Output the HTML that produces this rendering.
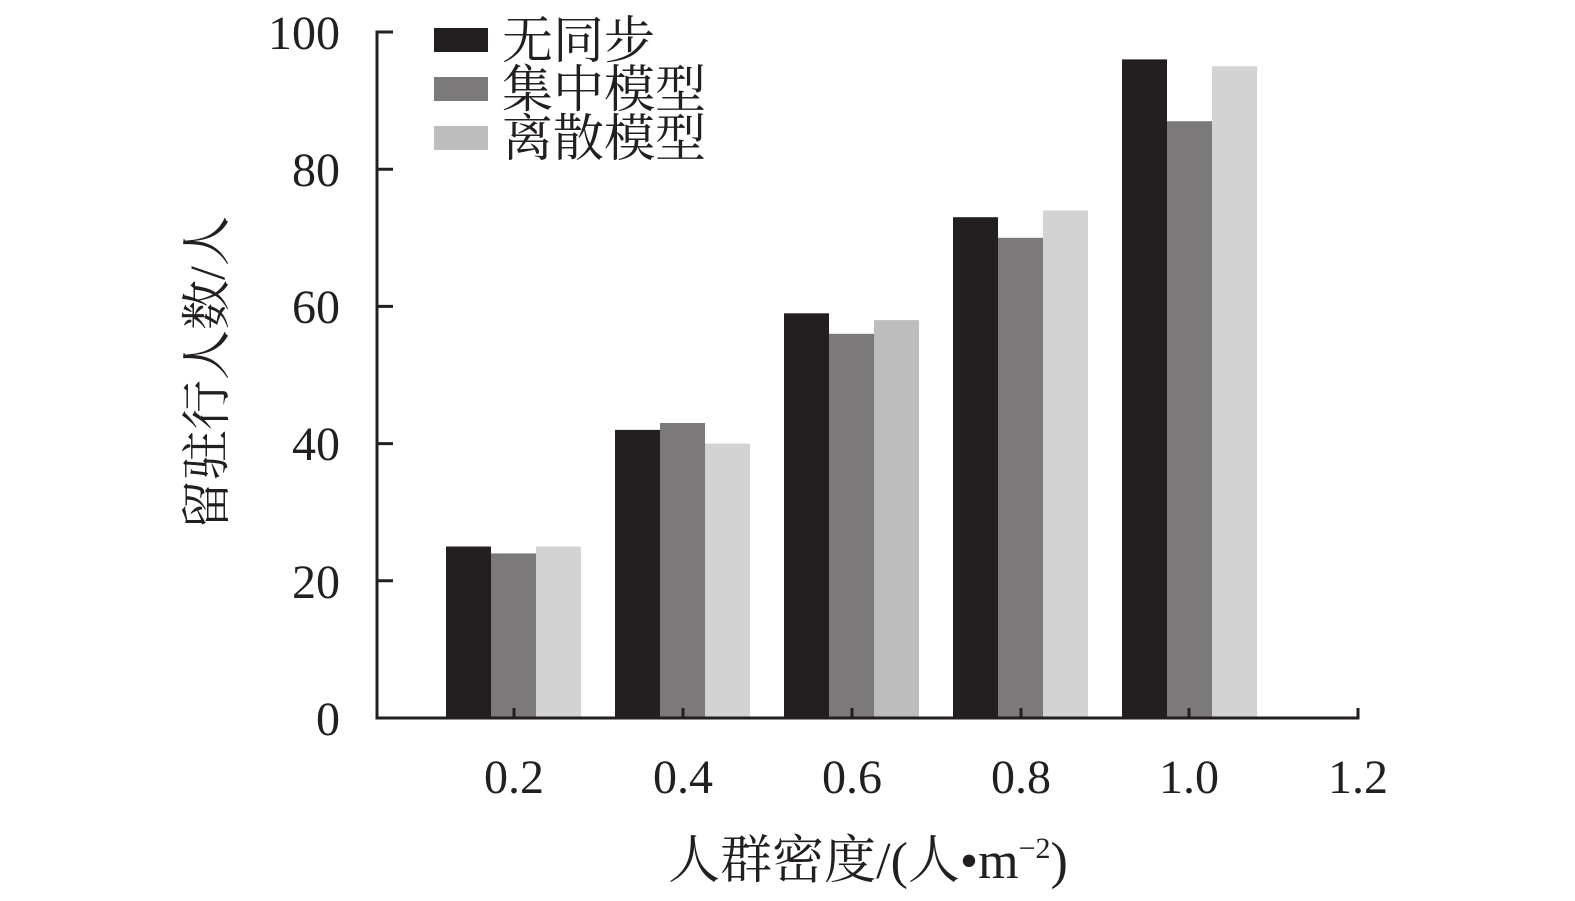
<!DOCTYPE html>
<html><head><meta charset="utf-8"><style>body{margin:0;background:#fff}</style></head><body>
<svg width="1575" height="896" xmlns="http://www.w3.org/2000/svg" font-family="'Liberation Serif','Noto Serif CJK SC',serif">
<g>
<rect x="446" y="546.5" width="45" height="171.5" fill="#231f20"/>
<rect x="491" y="553.4" width="45" height="164.6" fill="#7b7979"/>
<rect x="536" y="546.5" width="45" height="171.5" fill="#d3d3d3"/>
<rect x="615" y="429.9" width="45" height="288.1" fill="#231f20"/>
<rect x="660" y="423" width="45" height="295" fill="#7b7979"/>
<rect x="705" y="443.6" width="45" height="274.4" fill="#d3d3d3"/>
<rect x="784" y="313.3" width="45" height="404.7" fill="#231f20"/>
<rect x="829" y="333.8" width="45" height="384.2" fill="#7b7979"/>
<rect x="874" y="320.1" width="45" height="397.9" fill="#bdbdbd"/>
<rect x="953" y="217.2" width="45" height="500.8" fill="#231f20"/>
<rect x="998" y="237.8" width="45" height="480.2" fill="#7b7979"/>
<rect x="1043" y="210.4" width="45" height="507.6" fill="#d3d3d3"/>
<rect x="1122" y="59.4" width="45" height="658.6" fill="#231f20"/>
<rect x="1167" y="121.2" width="45" height="596.8" fill="#7b7979"/>
<rect x="1212" y="66.3" width="45" height="651.7" fill="#d3d3d3"/>
</g>
<g stroke="#231f20" stroke-width="3" fill="none">
<path d="M393 32H377V718H1358V708"/>
<path d="M377 169.2H393M377 306.4H393M377 443.6H393M377 580.8H393"/>
<path d="M514 718V708M683 718V708M852 718V708M1021 718V708M1189 718V708"/>
</g>
<g font-size="48" fill="#231f20" text-anchor="end">
<text x="340" y="49">100</text><text x="340" y="186">80</text><text x="340" y="323">60</text>
<text x="340" y="460">40</text><text x="340" y="598">20</text><text x="340" y="735">0</text>
</g>
<g font-size="48" fill="#231f20" text-anchor="middle">
<text x="514" y="793">0.2</text><text x="683" y="793">0.4</text><text x="852" y="793">0.6</text>
<text x="1021" y="793">0.8</text><text x="1189" y="793">1.0</text><text x="1358" y="793">1.2</text>
<text x="868" y="878" font-size="52">人群密度/(人•m<tspan font-size="30" dy="-20">−2</tspan><tspan dy="20">)</tspan></text>
<text transform="translate(224,373) rotate(-90)" font-size="50">留驻行人数/人</text>
</g>
<rect x="434" y="28" width="54" height="24" fill="#231f20"/>
<rect x="434" y="77" width="54" height="24" fill="#7b7979"/>
<rect x="434" y="126" width="54" height="24" fill="#bebebe"/>
<g font-size="51" fill="#231f20">
<text x="502" y="58">无同步</text><text x="502" y="107">集中模型</text><text x="502" y="156">离散模型</text>
</g>
</svg>
</body></html>
